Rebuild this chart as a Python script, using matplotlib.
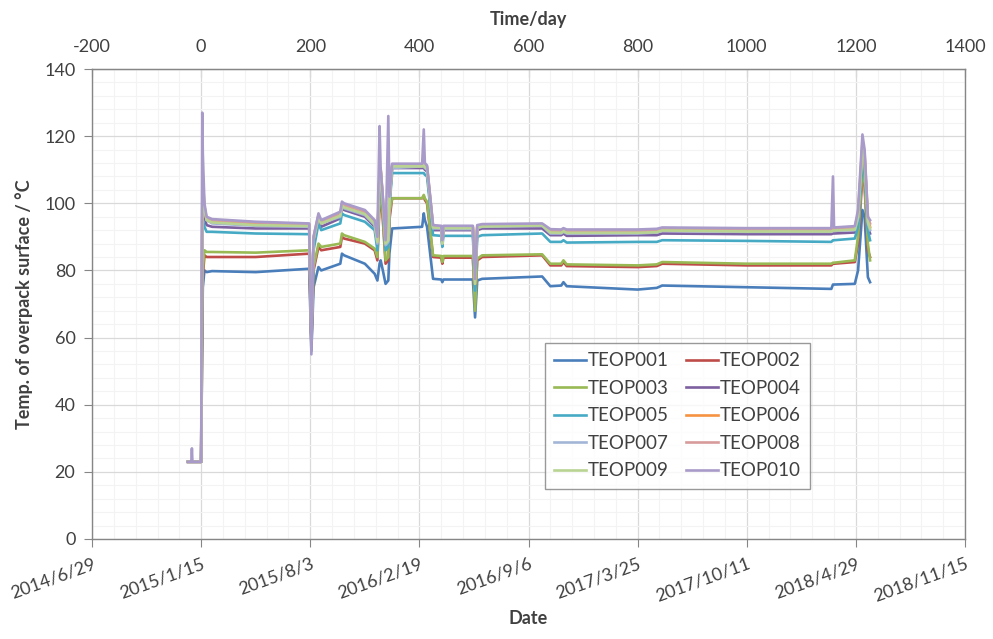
import numpy as np
import matplotlib
matplotlib.use("Agg")
import matplotlib.pyplot as plt
from matplotlib.ticker import MultipleLocator

plt.rcParams['font.family'] = ['Lato', 'DejaVu Sans']

# time since start of heating, days (shared breakpoints for all sensors)
days = [-24, -18, -17, -16, 0, 2, 3, 6, 10, 20,
        100, 198, 202, 206, 215, 220, 255, 258, 262, 300,
        318, 323, 327, 329, 333, 338, 343, 345, 350, 405,
        408, 410, 414, 425, 440, 442, 444, 498, 502, 506,
        515, 625, 640, 660, 664, 670, 800, 835, 845, 1000,
        1155, 1158, 1160, 1198, 1204, 1212, 1216, 1222, 1226]

teop001 = [23, 23, 23, 23, 23, 62, 75, 80, 79.5, 79.8,
           79.5, 80.5, 56, 75, 81, 80, 82, 85, 84.5, 82,
           79, 77, 82, 83, 80, 76, 77, 85, 92.5, 93,
           97, 95, 93, 77.5, 77.3, 76.5, 77.3, 77.3, 66, 77,
           77.5, 78.2, 75.3, 75.5, 76.5, 75.3, 74.3, 74.8, 75.5, 75,
           74.5, 75.8, 75.8, 76, 80, 98, 96, 78, 76.5]
teop002 = [23, 23, 23, 23, 23, 65, 78, 84.5, 84, 84,
           84, 85, 58, 80, 87, 86, 87, 90, 89.5, 88,
           86, 83, 100, 102, 95, 82, 83, 95, 101.5, 101.5,
           102, 101, 100, 84, 83.8, 82, 83.8, 83.8, 70, 83,
           84, 84.5, 81.5, 81.5, 82.5, 81.3, 81, 81.3, 82, 81.5,
           81.5, 82, 82, 82.5, 88, 108, 105, 86, 84]
teop003 = [23, 23, 23, 23, 23, 68, 80, 86, 85.5, 85.5,
           85.3, 86, 59, 81, 88, 87, 88, 91, 90.5, 88.5,
           86.5, 84, 102, 104, 96, 83, 84, 97, 101.5, 101.5,
           102.5, 101.5, 100.5, 84.5, 84.3, 82.5, 84.3, 84.3, 68, 83.5,
           84.5, 84.8, 82, 82, 83, 81.8, 81.5, 81.8, 82.5, 82,
           82, 82.3, 82.3, 83, 90, 110, 106, 88, 83]
teop004 = [23, 23, 23, 23, 23, 90, 100, 96, 93.5, 93,
           92.5, 92.5, 60, 88, 95, 93, 95.5, 98.5, 98, 96,
           93, 88, 108, 109, 100, 87, 88, 100, 110.5, 110.5,
           110.5, 110, 109.5, 92, 92, 88, 92, 92, 75, 92,
           92.5, 92.5, 90.5, 90.5, 91, 90.3, 90.5, 90.5, 91, 90.8,
           90.8, 91, 91, 91.3, 95, 115, 112, 93, 91]
teop005 = [23, 23, 23, 23, 23, 85, 95, 93, 91.5, 91.5,
           91, 90.8, 60, 86, 94, 92, 94, 97, 96.5, 94.5,
           92, 86, 107, 108, 99, 86, 87, 99, 109, 109,
           109, 108.5, 108, 90.5, 90.3, 87, 90.3, 90.3, 74, 90,
           90.5, 91, 88.5, 88.5, 89, 88.3, 88.5, 88.5, 89, 88.8,
           88.5, 89, 89, 89.5, 93, 112, 110, 92, 89]
teop006 = [23, 23, 23, 23, 23, 95, 105, 98, 95, 94.5,
           93.8, 93.5, 61, 89, 96, 94, 96.5, 99.5, 99, 97,
           94, 89, 109, 110, 101, 88, 89, 101, 111, 111,
           111.5, 111, 110.5, 93, 92.8, 88, 92.8, 92.8, 76, 93,
           93.3, 93.5, 91.5, 91.3, 91.8, 91.3, 91.3, 91.5, 92, 91.8,
           91.8, 92, 92, 92.3, 96, 116, 113, 95, 93]
teop007 = [23, 23, 23, 23, 23, 100, 108, 99, 95, 94,
           93.3, 93, 60, 89, 96, 94, 96, 99, 98.5, 96.5,
           93.5, 88, 108.5, 109.5, 100.5, 87.5, 88.5, 100.5, 110.5, 111,
           111, 110.5, 110, 92.5, 92.5, 88, 92.3, 92.3, 77, 92.5,
           93, 93.3, 91, 91, 91.5, 91, 91, 91.3, 91.8, 91.5,
           91.5, 91.8, 91.8, 92, 95.5, 117, 114, 94, 92]
teop008 = [23, 23, 23, 23, 23, 98, 106, 99, 95.5, 95,
           94.3, 93.8, 62, 90, 96.5, 94.5, 97, 100, 99.5, 97.5,
           94.5, 89.5, 109.5, 110.5, 101.5, 88.5, 89.5, 101.5, 111.5, 111.5,
           112, 111.5, 111, 93.3, 93, 88.5, 93, 93, 77, 93.3,
           93.5, 93.8, 92, 91.8, 92.3, 91.8, 91.8, 92, 92.5, 92.3,
           92.3, 92.5, 92.5, 92.8, 97, 118, 115, 96, 94]
teop009 = [23, 23, 23, 23, 23, 96, 104, 98, 95, 94.3,
           93.5, 93.2, 61, 89.5, 96, 94, 96.3, 99.3, 98.8, 96.8,
           93.8, 88.5, 108.8, 109.8, 100.8, 88, 89, 101, 111, 111,
           111.3, 110.8, 110.3, 92.8, 92.6, 88, 92.6, 92.6, 76, 92.8,
           93.1, 93.4, 91.3, 91.2, 91.7, 91.2, 91.2, 91.4, 91.9, 91.6,
           91.6, 91.9, 91.9, 92.2, 96, 116.5, 113, 94.5, 92.5]
teop010 = [23, 23, 27, 23, 23, 127, 115, 100, 96, 95.3,
           94.5, 94, 55, 90, 97, 95, 97.5, 100.5, 100, 98,
           95, 90, 123, 110, 102, 89, 126, 102, 111.8, 111.8,
           122, 112, 111.3, 93.5, 93.3, 89, 93.3, 93.3, 77.5, 93.5,
           93.8, 94, 92.3, 92.2, 92.6, 92.2, 92.2, 92.4, 92.8, 92.6,
           92.6, 108, 92.8, 93.2, 98, 120.5, 116, 96, 95]

names = ['TEOP001', 'TEOP002', 'TEOP003', 'TEOP004', 'TEOP005',
         'TEOP006', 'TEOP007', 'TEOP008', 'TEOP009', 'TEOP010']
series = [teop001, teop002, teop003, teop004, teop005,
          teop006, teop007, teop008, teop009, teop010]
colors = ['#4A7EBB', '#BE4B48', '#98B954', '#7D60A0', '#46AAC5',
          '#F69240', '#A3B5D6', '#D79B9A', '#B9D492', '#A99BC9']

day_ticks = [-200, 0, 200, 400, 600, 800, 1000, 1200, 1400]
date_labels = ['2014/6/29', '2015/1/15', '2015/8/3', '2016/2/19', '2016/9/6',
               '2017/3/25', '2017/10/11', '2018/4/29', '2018/11/15']

txt = '#404040'
fig = plt.figure(figsize=(9.93, 6.39), dpi=100)
ax = fig.add_axes([0.0927, 0.1565, 0.8791, 0.7355])

handles = []
for name, vals, c in zip(names, series, colors):
    h, = ax.plot(days, vals, color=c, lw=1.9, label=name, solid_joinstyle='round')
    handles.append(h)

ax.set_xlim(-200, 1400)
ax.set_ylim(0, 140)
ax.set_xticks(day_ticks)
ax.set_xticklabels(date_labels, rotation=20, ha='right', rotation_mode='anchor')
ax.xaxis.set_minor_locator(MultipleLocator(40))
ax.yaxis.set_major_locator(MultipleLocator(20))
ax.yaxis.set_minor_locator(MultipleLocator(4))
ax.grid(which='major', color='#D9D9D9', lw=0.9)
ax.grid(which='minor', color='#F3F3F3', lw=0.8)
ax.set_axisbelow(True)
ax.tick_params(which='minor', length=0)
ax.tick_params(axis='y', which='major', direction='out', length=6, color='#868686',
               labelsize=13, labelcolor=txt, pad=6)
ax.tick_params(axis='x', which='major', direction='out', length=6, color='#868686',
               labelsize=13, labelcolor=txt, pad=6)
for s in ax.spines.values():
    s.set_color('#868686')
    s.set_linewidth(1.0)

ax.set_xlabel('Date', fontsize=13, fontweight='bold', color=txt, labelpad=4)
ax.set_ylabel('Temp. of overpack surface / °C', fontsize=13, fontweight='bold',
              color=txt, labelpad=8)

top = ax.secondary_xaxis('top')
top.set_xticks(day_ticks)
top.set_xticklabels([str(d) for d in day_ticks])
top.tick_params(direction='in', length=6, color='#868686', labelsize=13,
                labelcolor=txt, pad=10)
top.spines['top'].set_color('#868686')
top.set_xlabel('Time/day', fontsize=13, fontweight='bold', color=txt, labelpad=10)

# legend filled row-wise like the original
order = [0, 2, 4, 6, 8, 1, 3, 5, 7, 9]
leg = ax.legend([handles[i] for i in order], [names[i] for i in order],
                ncol=2, loc='upper left', bbox_to_anchor=(0.519, 0.417),
                fontsize=13.5, frameon=True, fancybox=False,
                handlelength=1.7, handletextpad=0.1, columnspacing=0.9,
                labelspacing=0.56, borderpad=0.5, borderaxespad=0, labelcolor=txt)
leg.get_frame().set_edgecolor('#808080')
leg.get_frame().set_linewidth(1.0)

fig.savefig('out.png', dpi=100)
